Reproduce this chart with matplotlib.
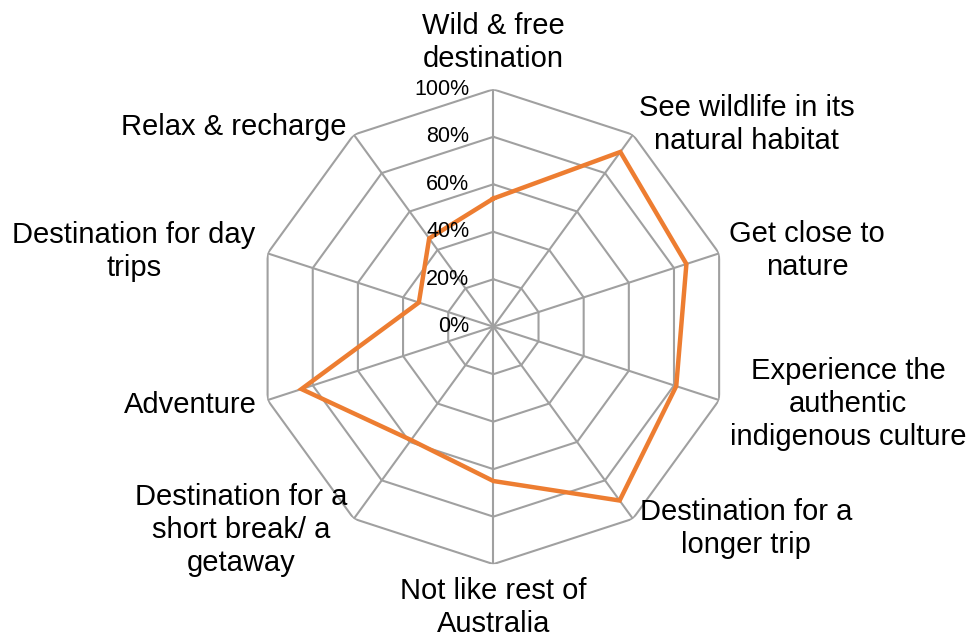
import numpy as np
import matplotlib
matplotlib.use("Agg")
import matplotlib.pyplot as plt

plt.rcParams['font.family'] = ['Liberation Sans', 'DejaVu Sans']

categories = [
    "Wild & free\ndestination",
    "See wildlife in its\nnatural habitat",
    "Get close to\nnature",
    "Experience the\nauthentic\nindigenous culture",
    "Destination for a\nlonger trip",
    "Not like rest of\nAustralia",
    "Destination for a\nshort break/ a\ngetaway",
    "Adventure",
    "Destination for day\ntrips",
    "Relax & recharge",
]
values = [0.54, 0.91, 0.855, 0.81, 0.905, 0.65, 0.59, 0.85, 0.33, 0.46]
rings = [0.2, 0.4, 0.6, 0.8, 1.0]
tick_labels = ["0%", "20%", "40%", "60%", "80%", "100%"]

# label offsets (pixels) from the tip of each spoke
label_offsets = [(0, 47), (114, 10), (88, 3), (129, -4), (113, -10),
                 (0, -43), (-113, -11), (-77, -5), (-134, 2), (-120, 8)]

orange = "#ED7D31"
grid_col = "#A0A0A0"

n = len(categories)
theta = np.arange(n) * 2 * np.pi / n

fig = plt.figure(figsize=(9.71, 6.39), dpi=100)
ax = fig.add_axes([0.2636, 0.1172, 0.489, 0.743], projection='polar')
ax.set_theta_zero_location('N')
ax.set_theta_direction(-1)
ax.set_ylim(0, 1)
ax.grid(False)
ax.spines['polar'].set_visible(False)
ax.set_xticks([])
ax.set_yticks([])
ax.patch.set_alpha(0)

th_closed = np.append(theta, theta[0])
for r in rings:
    ax.plot(th_closed, [r] * (n + 1), color=grid_col, lw=1.5, zorder=1)
for t in theta:
    ax.plot([t, t], [0, 1], color=grid_col, lw=1.5, zorder=1)

ax.plot(th_closed, values + [values[0]], color=orange, lw=3.2, zorder=3,
        solid_joinstyle='miter')

for k, lab in enumerate(tick_labels):
    ax.annotate(lab, xy=(0, k * 0.2), xytext=(-24, 0), textcoords='offset pixels',
                ha='right', va='center', fontsize=15.5, color='black', zorder=4)

for t, lab, off in zip(theta, categories, label_offsets):
    ax.annotate(lab, xy=(t, 1), xytext=off, textcoords='offset pixels',
                ha='center', va='center', fontsize=21, linespacing=1.22,
                color='black', annotation_clip=False)

fig.savefig("out.png", dpi=100)
